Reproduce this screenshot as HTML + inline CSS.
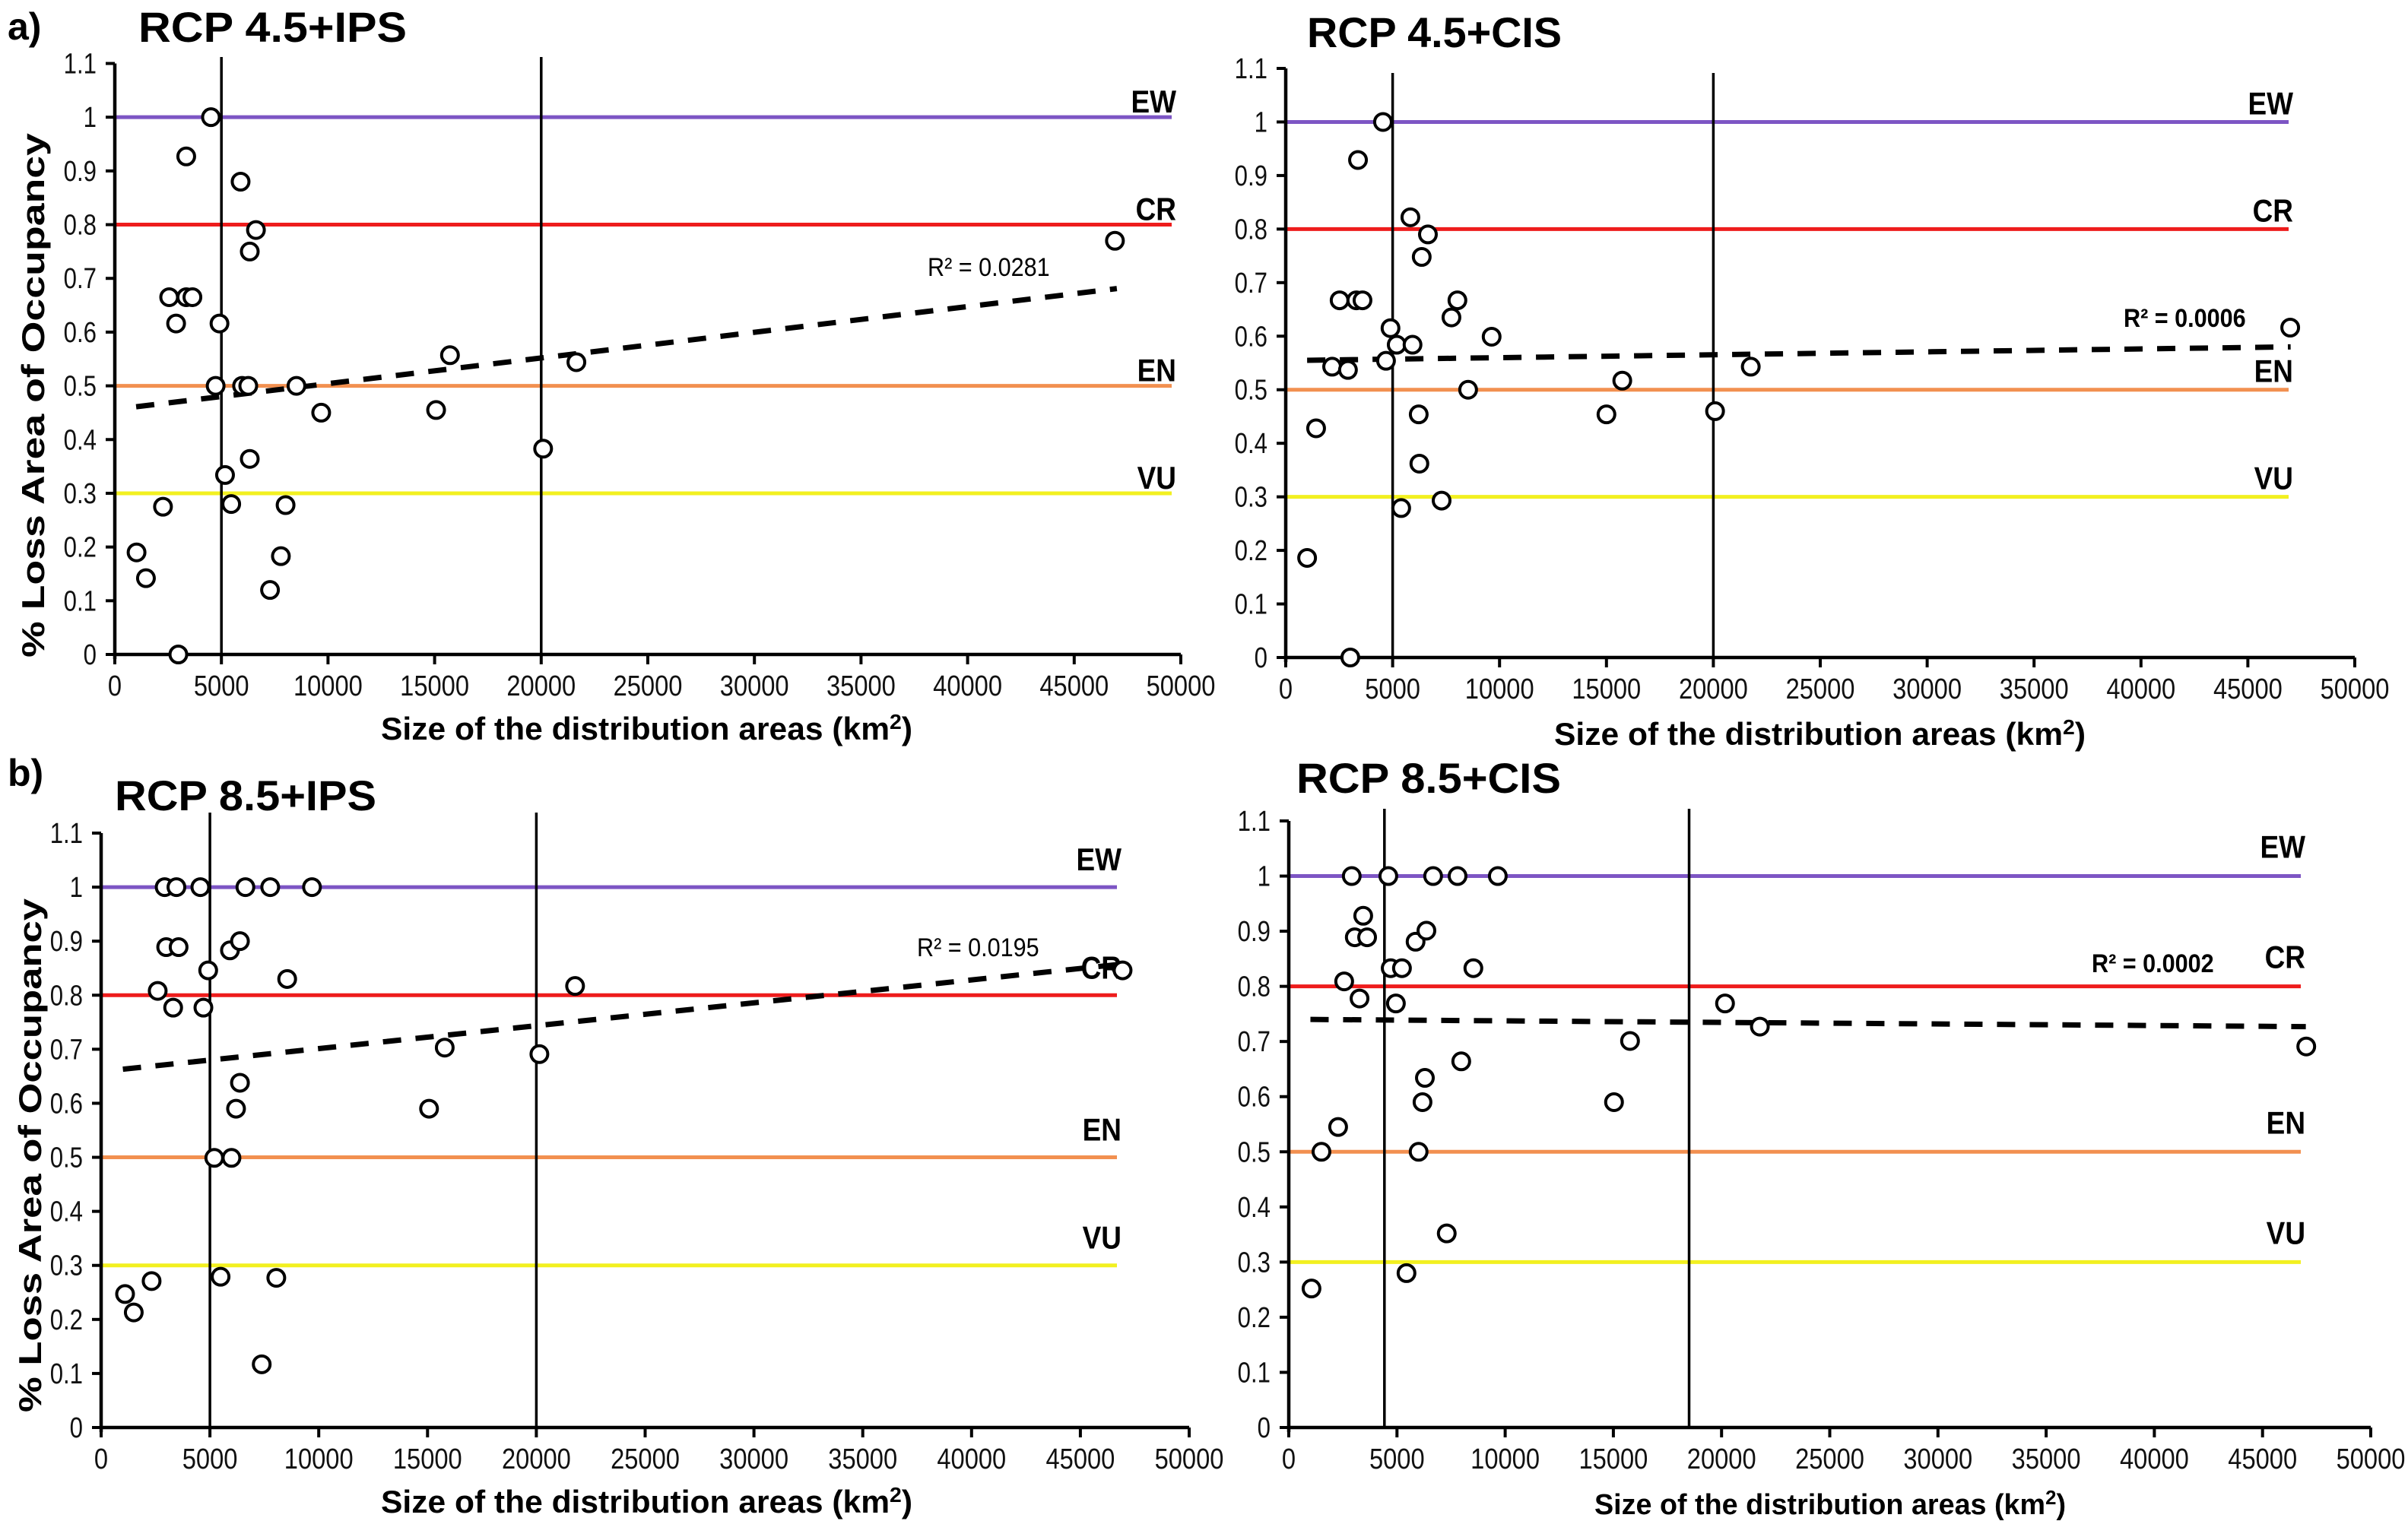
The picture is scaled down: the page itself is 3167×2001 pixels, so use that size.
<!DOCTYPE html>
<html><head><meta charset="utf-8"><style>
html,body{margin:0;padding:0;background:#fff}
svg{display:block}
text{font-family:"Liberation Sans",sans-serif}
</style></head><body>
<svg id="fig" xmlns="http://www.w3.org/2000/svg" width="3167" height="2001" viewBox="0 0 3167 2001">
<rect width="3167" height="2001" fill="#fff"/>
<text x="10" y="52" font-size="50" font-weight="bold">a)</text>
<text x="182" y="55" font-size="56" font-weight="bold" textLength="353" lengthAdjust="spacingAndGlyphs">RCP 4.5+IPS</text>
<text x="1719" y="62" font-size="56" font-weight="bold" textLength="335" lengthAdjust="spacingAndGlyphs">RCP 4.5+CIS</text>
<text x="10" y="1034" font-size="50" font-weight="bold">b)</text>
<text x="151" y="1066" font-size="56" font-weight="bold" textLength="344" lengthAdjust="spacingAndGlyphs">RCP 8.5+IPS</text>
<text x="1705" y="1043" font-size="56" font-weight="bold" textLength="348" lengthAdjust="spacingAndGlyphs">RCP 8.5+CIS</text>
<text transform="translate(58,520) rotate(-90)" text-anchor="middle" font-size="42" font-weight="bold" textLength="690" lengthAdjust="spacingAndGlyphs">% Loss Area of Occupancy</text>
<text transform="translate(54,1520) rotate(-90)" text-anchor="middle" font-size="42" font-weight="bold" textLength="676" lengthAdjust="spacingAndGlyphs">% Loss Area of Occupancy</text>
<text x="501" y="973" font-size="42" font-weight="bold" textLength="699" lengthAdjust="spacingAndGlyphs">Size of the distribution areas (km<tspan font-size="28" dy="-14">2</tspan><tspan dy="14">)</tspan></text>
<text x="2044" y="980" font-size="42" font-weight="bold" textLength="699" lengthAdjust="spacingAndGlyphs">Size of the distribution areas (km<tspan font-size="28" dy="-14">2</tspan><tspan dy="14">)</tspan></text>
<text x="501" y="1990" font-size="42" font-weight="bold" textLength="699" lengthAdjust="spacingAndGlyphs">Size of the distribution areas (km<tspan font-size="28" dy="-14">2</tspan><tspan dy="14">)</tspan></text>
<text x="2097" y="1992" font-size="38" font-weight="bold" textLength="620" lengthAdjust="spacingAndGlyphs">Size of the distribution areas (km<tspan font-size="26" dy="-13">2</tspan><tspan dy="13">)</tspan></text>
</svg>
<script>
// ---- data ----
const xTicks = [0,5000,10000,15000,20000,25000,30000,35000,40000,45000,50000];
const yTicks = [0,0.1,0.2,0.3,0.4,0.5,0.6,0.7,0.8,0.9,1,1.1];
const yTickLabels = ["0","0.1","0.2","0.3","0.4","0.5","0.6","0.7","0.8","0.9","1","1.1"];
const thresholdNames = ["EW","CR","EN","VU"];
const thresholdValues = [1.0,0.8,0.5,0.3];

const a1X = [4510,3350,5900,6620,6330,2550,3350,3640,2875,4910,4730,5970,6260,8520,9680,15070,15720,21650,20090,46910,6330,5170,5460,8010,2260,1020,1460,7790,7280,2980];
const a1Y = [1.0,0.927,0.88,0.79,0.75,0.665,0.665,0.665,0.616,0.616,0.50,0.50,0.50,0.50,0.45,0.455,0.557,0.544,0.383,0.77,0.364,0.334,0.28,0.278,0.275,0.19,0.142,0.183,0.12,0.0];
const a1Trend = [[1000,0.461],[47000,0.681]];
const a1Split = [5000,20000];

const a2X = [4550,3380,5830,6650,6360,2520,3300,3590,8030,7750,4900,9630,5190,5930,4690,2170,2910,21750,15740,8530,6220,15000,20080,1420,6250,7290,5400,1000,3020,46980];
const a2Y = [1.0,0.929,0.822,0.79,0.748,0.667,0.667,0.667,0.667,0.635,0.615,0.599,0.584,0.584,0.554,0.543,0.537,0.543,0.517,0.50,0.454,0.454,0.46,0.428,0.362,0.293,0.279,0.186,0.0,0.616];
const a2Trend = [[1000,0.555],[47000,0.58]];
const a2Split = [5000,20000];

const b1X = [2920,3460,4560,6630,7770,9690,2990,3560,5920,6380,4920,8550,2600,3310,4700,21780,46940,15790,20140,6380,6200,15070,5200,5990,5490,8050,2320,1100,1500,7380];
const b1Y = [1.0,1.0,1.0,1.0,1.0,1.0,0.889,0.889,0.883,0.90,0.846,0.830,0.808,0.777,0.777,0.817,0.846,0.703,0.691,0.638,0.590,0.590,0.499,0.499,0.279,0.277,0.271,0.247,0.213,0.117];
const b1Trend = [[1000,0.663],[47000,0.858]];
const b1Split = [5000,20000];

const b2X = [2910,4600,6670,7800,9660,3440,3050,3620,5860,6360,4710,5230,8530,2560,3270,4950,20160,21770,47020,15770,7970,6290,6180,15030,2280,1510,6000,7300,5440,1050];
const b2Y = [1.0,1.0,1.0,1.0,1.0,0.928,0.889,0.889,0.881,0.901,0.833,0.833,0.833,0.809,0.778,0.769,0.769,0.727,0.691,0.701,0.664,0.634,0.590,0.590,0.545,0.50,0.50,0.352,0.280,0.252];
const b2Trend = [[1000,0.74],[47000,0.727]];
const b2Split = [4420,18500];

const r2Labels = ["R\u00b2 = 0.0281","R\u00b2 = 0.0006","R\u00b2 = 0.0195","R\u00b2 = 0.0002"];

// ---- layout ----
const panels = [
 {id:'a1',xs:a1X,ys:a1Y,trend:a1Trend,split:a1Split,x0:151,x1:1553,y0:861,y1:83.5,end:1541,vTop:75,lo:6,r2:[1220,363,false]},
 {id:'a2',xs:a2X,ys:a2Y,trend:a2Trend,split:a2Split,x0:1691,x1:3097,y0:865,y1:90,end:3010,vTop:96,lo:10,r2:[2793,430,true]},
 {id:'b1',xs:b1X,ys:b1Y,trend:b1Trend,split:b1Split,x0:133,x1:1564,y0:1878,y1:1096,end:1469,vTop:1069,lo:22,r2:[1206,1258,false]},
 {id:'b2',xs:b2X,ys:b2Y,trend:b2Trend,split:b2Split,x0:1695,x1:3118,y0:1878,y1:1080,end:3026,vTop:1064,lo:24,r2:[2751,1279,true]}
];
const colors = ["#7d55c4","#ee1c1c","#f29050","#f2f020"];
const NS = "http://www.w3.org/2000/svg";
const svg = document.getElementById('fig');
function mk(tag, attrs, parent){
  const e = document.createElementNS(NS, tag);
  for (const k in attrs) e.setAttribute(k, attrs[k]);
  (parent||svg).appendChild(e);
  return e;
}
panels.forEach((p, pi) => {
  const sx = v => p.x0 + (v/50000)*(p.x1-p.x0);
  const sy = v => p.y0 - (v/1.1)*(p.y0-p.y1);
  const g = mk('g', {});
  
  
  thresholdValues.forEach((tv, i) => {
    const l = mk('line', {x1:p.x0, x2:p.end, y1:sy(tv), y2:sy(tv), stroke:colors[i], 'stroke-width':5}, g);
    
    
    const tx = p.end+6;
    const t = mk('text', {x:tx, y:sy(tv)-p.lo, 'text-anchor':'end', 'font-size':42, 'font-weight':'bold', transform:'translate('+tx+',0) scale(0.88,1) translate('+(-tx)+',0)'}, g);
    t.textContent = thresholdNames[i];
    
    
  });
  p.split.forEach(v => {
    const l = mk('line', {x1:sx(v), x2:sx(v), y1:p.vTop, y2:p.y0, stroke:'#000', 'stroke-width':3.5}, g);
    
    
  });
  const ax = mk('line', {x1:p.x0, x2:p.x1, y1:p.y0, y2:p.y0, stroke:'#000', 'stroke-width':4.5}, g);
  
  
  const ay = mk('line', {x1:p.x0, x2:p.x0, y1:sy(1.1), y2:p.y0+6, stroke:'#000', 'stroke-width':4.5}, g);
  
  
  xTicks.forEach(v => {
    mk('line', {x1:sx(v), x2:sx(v), y1:p.y0, y2:p.y0+13, stroke:'#000', 'stroke-width':4}, g);
    const t = mk('text', {x:sx(v), y:p.y0+54, 'text-anchor':'middle', 'font-size':38, fill:'#111', transform:'translate('+sx(v)+',0) scale(0.86,1) translate('+(-sx(v))+',0)'}, g);
    t.textContent = String(v);
    
    
  });
  yTicks.forEach((v, i) => {
    mk('line', {x1:p.x0-12, x2:p.x0, y1:sy(v), y2:sy(v), stroke:'#000', 'stroke-width':4}, g);
    const xx = p.x0-24;
    const t = mk('text', {x:xx, y:sy(v)+13, 'text-anchor':'end', 'font-size':38, fill:'#111', transform:'translate('+xx+',0) scale(0.82,1) translate('+(-xx)+',0)'}, g);
    t.textContent = yTickLabels[i];
    
    
  });
  const tr = mk('line', {x1:sx(p.trend[0][0]), y1:sy(p.trend[0][1]), x2:sx(p.trend[1][0]), y2:sy(p.trend[1][1]), stroke:'#000', 'stroke-width':7, 'stroke-dasharray':'24 19'}, g);
  
  
  const rx = p.r2[0];
  const rt = mk('text', {x:rx, y:p.r2[1], 'font-size':34, 'font-weight':p.r2[2]?'bold':'normal', transform:'translate('+rx+',0) scale(0.9,1) translate('+(-rx)+',0)'}, g);
  rt.textContent = r2Labels[pi];
  
  
  p.xs.forEach((xv, i) => {
    const c = mk('circle', {cx:sx(xv), cy:sy(p.ys[i]), r:11, fill:'#fff', stroke:'#000', 'stroke-width':4}, g);
    
    
  });
});
</script>
</body></html>
